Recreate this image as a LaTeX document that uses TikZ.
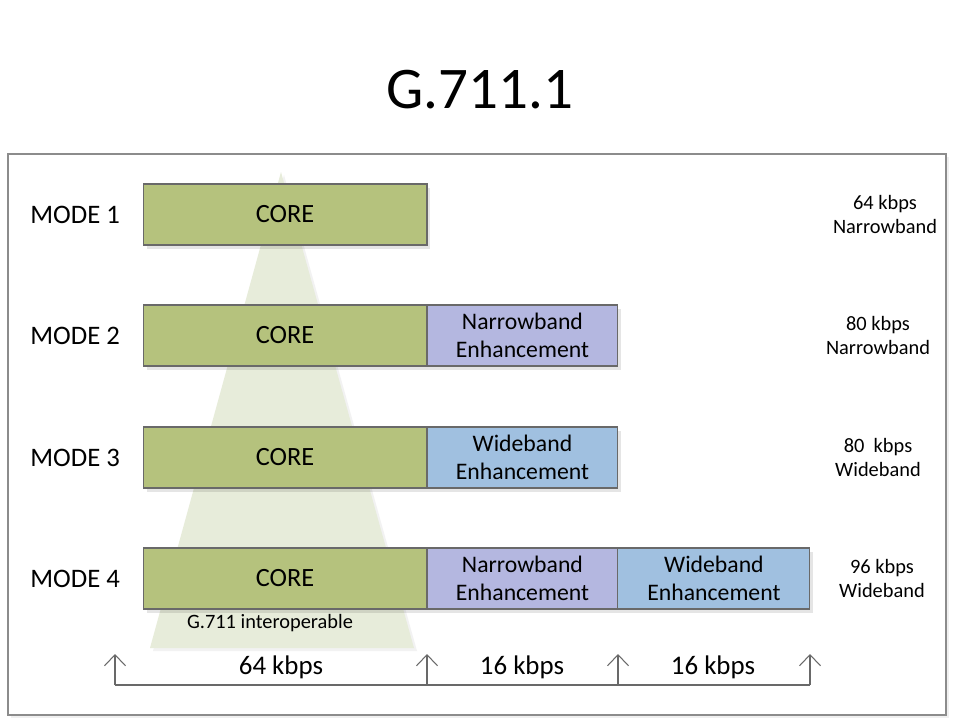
\documentclass[tikz,border=0pt]{standalone}
\usepackage{fontspec}
\setmainfont{Carlito}
\usetikzlibrary{positioning, arrows.meta, shadows}
\definecolor{coreGreen}{RGB}{181, 194, 125}
\definecolor{nbLilac}{RGB}{180, 183, 224}
\definecolor{wbBlue}{RGB}{160, 192, 224}
\definecolor{pyramidTint}{RGB}{231, 236, 218}
\definecolor{edgeGrey}{RGB}{105, 105, 105}
\definecolor{frameGrey}{RGB}{140, 140, 140}
\tikzset{
  blockBox/.style={
    draw=edgeGrey,
    line width=0.6pt,
    minimum height=1.22cm,
    inner sep=1pt,
    outer sep=0pt,
    align=center,
    drop shadow={shadow xshift=2pt, shadow yshift=-2pt, opacity=0.1, fill=black}
  },
  coreBox/.style={
    blockBox,
    fill=coreGreen,
    minimum width=5.68cm,
    font=\fontsize{15}{18}\selectfont
  },
  nbBox/.style={
    blockBox,
    fill=nbLilac,
    minimum width=3.82cm,
    font=\fontsize{13.5}{16}\selectfont
  },
  wbBox/.style={
    blockBox,
    fill=wbBlue,
    minimum width=3.84cm,
    font=\fontsize{13.5}{16}\selectfont
  },
  modeLabel/.style={
    anchor=west,
    inner sep=0pt,
    font=\fontsize{15.2}{18}\selectfont
  },
  rateLabel/.style={
    align=center,
    font=\fontsize{11.6}{13.6}\selectfont
  },
  shareLabel/.style={
    font=\fontsize{15.3}{18}\selectfont
  },
  rateTick/.style={
    draw=edgeGrey,
    line width=0.6pt,
    -{Straight Barb[length=2.2mm,width=4.2mm]}
  }
}

\begin{document}
\begin{tikzpicture}[x=0.02cm, y=-0.02cm]
  \useasboundingbox (0,0) rectangle (960,720);
  % title and frame
  \node (title) at (480,90) {\fontsize{33.6}{40}\selectfont G.711.1};
  \fill[black!6] (11,157) rectangle (949,718);
  \draw[frameGrey, fill=white, line width=0.9pt] (8,154) rectangle (946,715);
  % pyramid behind the core
  \fill[black!5] (284,175) -- (417,651) -- (153,651) -- cycle;
  \fill[pyramidTint] (281,172) -- (414,648) -- (150,648) -- cycle;
  % mode rows
  \node[coreBox] (core1) at (285,214.5) {CORE};
  \node[coreBox] (core2) at (285,335.5) {CORE};
  \node[nbBox, right=0pt of core2] (nb2) {Narrowband\\Enhancement};
  \node[coreBox] (core3) at (285,457.5) {CORE};
  \node[wbBox, minimum width=3.82cm, right=0pt of core3] (wb3) {Wideband\\Enhancement};
  \node[coreBox] (core4) at (285,578.5) {CORE};
  \node[nbBox, right=0pt of core4] (nb4) {Narrowband\\Enhancement};
  \node[wbBox, right=0pt of nb4] (wb4) {Wideband\\Enhancement};
  \node[modeLabel] (mode1) at (30,214.5) {MODE 1};
  \node[modeLabel] (mode2) at (30,335.5) {MODE 2};
  \node[modeLabel] (mode3) at (30,457.5) {MODE 3};
  \node[modeLabel] (mode4) at (30,578.5) {MODE 4};
  \node[rateLabel] (rate1) at (885,214.5) {64 kbps\\Narrowband};
  \node[rateLabel] (rate2) at (878,335.5) {80 kbps\\Narrowband};
  \node[rateLabel] (rate3) at (878,457.5) {80~ kbps\\Wideband};
  \node[rateLabel] (rate4) at (882,578.5) {96 kbps\\Wideband};
  \node[font=\fontsize{11.6}{14}\selectfont] (interop) at (270,623) {G.711 interoperable};
  % bit-rate scale
  \coordinate (base0) at (115,685);
  \coordinate (base1) at (427,685);
  \coordinate (base2) at (618,685);
  \coordinate (base3) at (810,685);
  \coordinate (tip0) at (115,654);
  \coordinate (tip1) at (427,654);
  \coordinate (tip2) at (618,654);
  \coordinate (tip3) at (810,654);
  \draw[edgeGrey, line width=0.6pt] (base0) -- (base3);
  \draw[rateTick] (base0) -- (tip0);
  \draw[rateTick] (base1) -- (tip1);
  \draw[rateTick] (base2) -- (tip2);
  \draw[rateTick] (base3) -- (tip3);
  \node[shareLabel] (share0) at (281,667) {64 kbps};
  \node[shareLabel] (share1) at (522,667) {16 kbps};
  \node[shareLabel] (share2) at (713,667) {16 kbps};
\end{tikzpicture}
\end{document}
